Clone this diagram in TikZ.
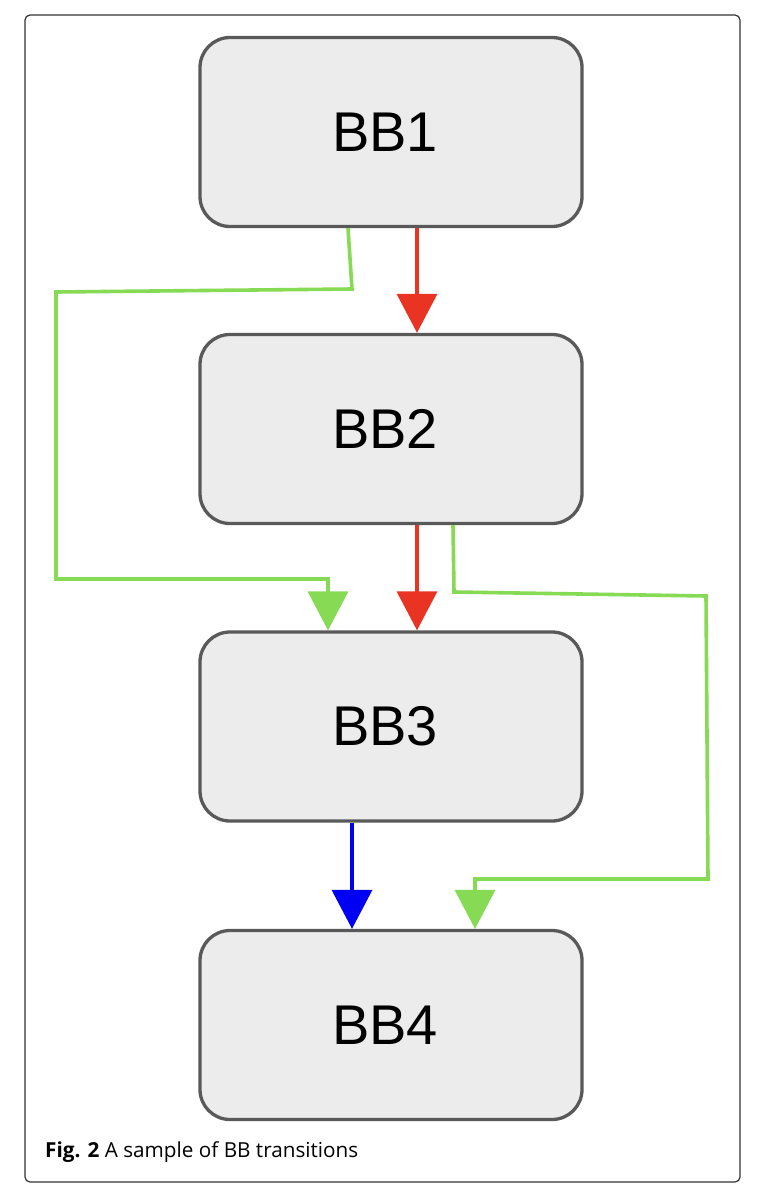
\documentclass[tikz,border=0pt]{standalone}
\usepackage{fontspec}
\setmainfont{Liberation Sans}
\newfontfamily\capfont{Open Sans}
\usetikzlibrary{arrows.meta,calc}
\definecolor{boxfill}{HTML}{ECECEC}
\definecolor{boxline}{HTML}{595959}
\definecolor{fgreen}{HTML}{86DA54}
\definecolor{fred}{HTML}{E93424}
\definecolor{fblue}{HTML}{0000F5}
\definecolor{frameline}{HTML}{333333}
\tikzset{
  bbbox/.style={draw=boxline, fill=boxfill, line width=3.3pt, rounded corners=30pt,
    minimum width=382pt, minimum height=189pt, inner sep=0pt,
    font=\fontsize{56}{60}\selectfont, text=black},
  flow/.style={line width=3.6pt, -{Triangle[length=39pt,width=40pt]}},
  gflow/.style={flow, draw=fgreen, line join=miter},
}
\begin{document}
\begin{tikzpicture}[x=1pt,y=-1pt]
\useasboundingbox (0,0) rectangle (764,1204);
\fill[white] (0,0) rectangle (764,1204);
\draw[frameline, line width=1.2pt, rounded corners=5pt] (25,15) rectangle (740,1182);

\node[bbbox] (b1) at (391,132) {\hspace*{-12pt}BB1};
\node[bbbox] (b2) at (391,429) {\hspace*{-12pt}BB2};
\node[bbbox] (b3) at (391,726.5) {\hspace*{-12pt}BB3};
\node[bbbox] (b4) at (391,1025) {\hspace*{-12pt}BB4};

% green 1: BB1 -> BB3
\coordinate (g1a) at (352,289);
\coordinate (g1b) at (56,292);
\coordinate (g1c) at (56,579);
\coordinate (g1d) at (328,579);
\draw[gflow] ($(b1.south)+(-43,0)$) -- (g1a) -- (g1b) -- (g1c) -- (g1d) -- ($(b3.north)+(-63,0)$);

% green 2: BB2 -> BB4
\coordinate (g2a) at (454,592);
\coordinate (g2b) at (706,596);
\coordinate (g2c) at (708,879);
\coordinate (g2d) at (475,879);
\draw[gflow] ($(b2.south)+(62,0)$) -- (g2a) -- (g2b) -- (g2c) -- (g2d) -- ($(b4.north)+(84,0)$);

% red
\draw[flow, draw=fred] ($(b1.south)+(26,0)$) -- ($(b2.north)+(26,0)$);
\draw[flow, draw=fred] ($(b2.south)+(26,0)$) -- ($(b3.north)+(26,0)$);
% blue
\draw[flow, draw=fblue] ($(b3.south)+(-39,0)$) -- ($(b4.north)+(-39,0)$);

\node[anchor=base west, inner sep=0pt, font=\capfont\fontsize{20.7}{25}\selectfont] (cap) at (45,1157)
  {\textbf{Fig. 2} A sample of BB transitions};
\end{tikzpicture}
\end{document}
